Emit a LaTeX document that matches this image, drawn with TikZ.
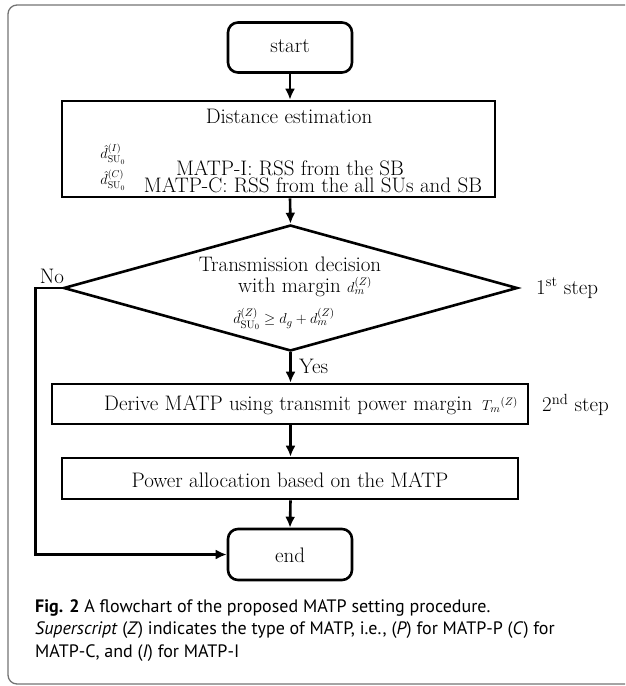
\documentclass[tikz,border=0pt]{standalone}
\usepackage{fontspec}
\usetikzlibrary{shapes.geometric,arrows.meta}
\newfontfamily\capfont{PT Sans}
\newcommand{\flowfont}{\fontsize{21}{24}\selectfont}
\newcommand{\mathsz}{\fontsize{15.5}{17}\selectfont}
\newcommand{\smallmathsz}{\fontsize{14}{15}\selectfont}
\newcommand{\capsz}{\capfont\fontsize{18}{22}\selectfont}
\tikzset{
  flowline/.style={line width=2.6pt},
  arr/.style={flowline,-{Latex[length=11pt,width=10pt]}},
  termbox/.style={draw,flowline,rounded corners=10pt,minimum width=124pt,minimum height=50pt,inner sep=0pt},
  procbox/.style={draw,flowline,inner sep=0pt},
  lbl/.style={inner sep=0pt,font=\flowfont},
  mlbl/.style={inner sep=0pt,font=\mathsz},
  smlbl/.style={inner sep=0pt,font=\smallmathsz},
  caplbl/.style={inner sep=0pt,anchor=base west,font=\capsz},
}
\begin{document}
\begin{tikzpicture}[x=1pt,y=-1pt]
\useasboundingbox (0,0) rectangle (625,686);
\clip (0,0) rectangle (625,686);
\draw[black!55,line width=1.3pt,rounded corners=9pt] (660,5) -- (8,5) -- (8,684) -- (660,684);

% terminals
\node[termbox] (start) at (290,47.5) {};
\node[lbl] (starttxt) at (290,46) {start};
\node[termbox,minimum height=51pt] (end) at (290,554.5) {};
\node[lbl] (endtxt) at (290,555) {end};

% distance estimation
\node[procbox,minimum width=433pt,minimum height=96pt] (dist) at (278.5,149) {};
\node[lbl] (disttxt) at (289,116) {Distance estimation};
\node[smlbl] (dI) at (113,154) {$\hat{d}^{(I)}_{\mathrm{SU}_0}$};
\node[smlbl] (dC) at (113,180) {$\hat{d}^{(C)}_{\mathrm{SU}_0}$};
\node[lbl] (matpI) at (290,168) {MATP-I: RSS from the SB};
\node[lbl] (matpC) at (313,185) {MATP-C: RSS from the all SUs and SB};

% decision
\node[draw,flowline,diamond,inner sep=0pt,minimum width=454pt,minimum height=126pt] (dec) at (290.5,288) {};
\node[lbl] (dec1) at (290,264) {Transmission decision};
\node[lbl] (dec2) at (305,287) {with margin {\mathsz$d_m^{(Z)}$}};
\node[mlbl] (dec3) at (284,319) {$\hat{d}^{(Z)}_{\mathrm{SU}_0}\geq d_g+d_m^{(Z)}$};
\node[lbl,anchor=west] (step1) at (536,288) {1\textsuperscript{st} step};
\node[lbl] (nolbl) at (52,276) {No};

% derive
\node[procbox,minimum width=476pt,minimum height=40pt] (derive) at (290,404) {};
\node[lbl] (derivetxt) at (311,405) {Derive MATP using transmit power margin\ \,{\mathsz$T_m{}^{(Z)}$}};
\node[lbl,anchor=west] (step2) at (542,405) {2\textsuperscript{nd} step};
\node[lbl,anchor=west] (yeslbl) at (299,366) {Yes};

% power allocation
\node[procbox,minimum width=456pt,minimum height=41pt] (power) at (290,478.5) {};
\node[lbl] (powertxt) at (290,480) {Power allocation based on the MATP};

% connectors
\draw[arr] (start.south) -- (start.south |- dist.north);
\draw[arr] (start.south |- dist.south) -- (dec.north);
\draw[arr] (dec.south) -- (dec.south |- derive.north);
\draw[arr] (dec.south |- derive.south) -- (dec.south |- power.north);
\draw[arr] (dec.south |- power.south) -- (end.north);
\draw[arr] (dec.west) -- ++(-27,0) |- (end.west);

% caption
\node[caplbl] (cap1) at (35,612) {\textbf{Fig. 2} A flowchart of the proposed MATP setting procedure.};
\node[caplbl] (cap2) at (35,634) {\textit{Superscript} (\textit{Z}) indicates the type of MATP, i.e., (\textit{P}) for MATP-P (\textit{C}) for};
\node[caplbl] (cap3) at (35,657) {MATP-C, and (\textit{I}) for MATP-I};
\end{tikzpicture}
\end{document}
